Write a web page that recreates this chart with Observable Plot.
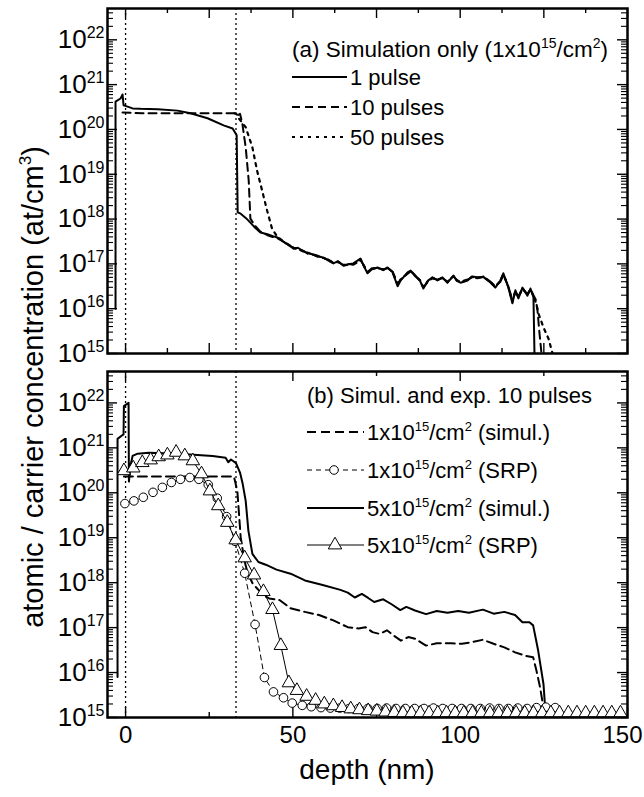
<!DOCTYPE html>
<html>
<head>
<meta charset="utf-8">
<script src="https://cdn.jsdelivr.net/npm/d3@7"></script>
<script src="https://cdn.jsdelivr.net/npm/@observablehq/plot@0.6"></script>
<style>
  body { margin: 0; background: #fff; }
  #chart { position: relative; width: 644px; height: 797px; font-family: "Liberation Sans", Arial, Helvetica, sans-serif; color: #000; }
  #chart svg { position: absolute; left: 0; overflow: visible; }
</style>
</head>
<body>
<div id="chart"></div>
<script>
// ---------------- DATA (depth in nm, log10 of concentration in at/cm^3) ----------------
// Panel (a): simulation only, 1x10^15/cm^2
const aPulse1 = [[-3.0,16.0],[-3.0,20.62],[-1.5,20.69],[-0.9,20.78],[-0.6,20.54],[0.6,20.51],[2.1,20.47],[4.5,20.46],[9.6,20.45],[15.5,20.42],[19.4,20.36],[24.5,20.25],[29.3,20.09],[32.0,20.02],[33.2,19.87],[33.5,18.15],[34.4,18.12],[36.0,18.02],[37.3,17.92],[38.8,17.80],[40.3,17.70],[42.4,17.66],[44.0,17.62],[45.4,17.59],[47.8,17.46],[49.0,17.42],[50.2,17.34],[51.5,17.36],[53.2,17.28],[54.5,17.24],[56.2,17.21],[57.5,17.17],[59.2,17.14],[60.5,17.08],[62.1,17.01],[63.5,17.06],[65.1,16.96],[66.5,16.99],[68.1,17.01],[70.2,17.12],[71.2,16.95],[72.3,16.79],[73.6,16.88],[75.3,16.92],[77.0,16.86],[78.3,16.92],[79.8,16.81],[81.3,16.50],[82.2,16.63],[84.3,16.81],[85.2,16.85],[86.6,16.74],[88.0,16.62],[89.0,16.45],[90.3,16.62],[91.7,16.70],[93.2,16.63],[94.7,16.70],[96.2,16.58],[98.0,16.74],[99.0,16.62],[100.1,16.58],[102.2,16.63],[103.5,16.72],[105.2,16.70],[107.0,16.70],[109.1,16.58],[110.5,16.47],[112.0,16.63],[112.9,16.79],[114.4,16.47],[115.6,16.12],[116.5,16.41],[117.4,16.23],[118.6,16.47],[120.1,16.29],[121.0,16.45],[121.9,16.25],[122.2,15.0]];
const aPulse10 = [[-0.9,20.38],[5.0,20.36],[15.0,20.36],[25.0,20.36],[33.0,20.36],[33.4,20.31],[34.2,20.35],[34.9,20.13],[35.9,19.60],[36.8,18.86],[37.3,18.01],[38.8,17.84],[40.3,17.72],[42.4,17.64],[44.0,17.60],[45.4,17.57],[47.8,17.47],[49.0,17.40],[50.2,17.35],[51.5,17.33],[53.2,17.29],[54.5,17.22],[56.2,17.20],[57.5,17.18],[59.2,17.12],[60.5,17.10],[62.1,17.03],[63.5,17.04],[65.1,16.98],[66.5,17.00],[68.1,16.98],[70.2,17.08],[71.2,16.97],[72.3,16.82],[73.6,16.90],[75.3,16.90],[77.0,16.88],[78.3,16.90],[79.8,16.83],[81.3,16.55],[82.2,16.66],[84.3,16.78],[85.2,16.83],[86.6,16.72],[88.0,16.64],[89.0,16.48],[90.3,16.60],[91.7,16.68],[93.2,16.65],[94.7,16.68],[96.2,16.60],[98.0,16.72],[99.0,16.64],[100.1,16.60],[102.2,16.65],[103.5,16.70],[105.2,16.68],[107.0,16.72],[109.1,16.60],[110.5,16.50],[112.0,16.60],[112.9,16.75],[114.4,16.50],[115.6,16.18],[116.5,16.38],[117.4,16.27],[118.6,16.44],[120.1,16.33],[121.0,16.42],[121.9,16.30],[122.6,16.20],[123.1,15.96],[123.7,15.45],[124.3,15.0]];
const aPulse50 = [[32.5,20.36],[33.0,20.36],[33.9,20.24],[35.9,20.05],[37.9,19.60],[39.3,19.08],[40.8,18.64],[42.3,18.19],[43.8,17.78],[45.4,17.60],[47.8,17.47],[49.0,17.41],[50.2,17.36],[51.5,17.34],[53.2,17.27],[54.5,17.25],[56.2,17.20],[57.5,17.16],[59.2,17.13],[60.5,17.09],[62.1,17.02],[63.5,17.05],[65.1,16.97],[66.5,16.98],[68.1,17.00],[70.2,17.10],[71.2,16.96],[72.3,16.81],[73.6,16.89],[75.3,16.91],[77.0,16.87],[78.3,16.91],[79.8,16.82],[81.3,16.53],[82.2,16.64],[84.3,16.80],[85.2,16.84],[86.6,16.73],[88.0,16.63],[89.0,16.47],[90.3,16.61],[91.7,16.69],[93.2,16.64],[94.7,16.69],[96.2,16.59],[98.0,16.73],[99.0,16.63],[100.1,16.59],[102.2,16.64],[103.5,16.71],[105.2,16.69],[107.0,16.71],[109.1,16.59],[110.5,16.49],[112.0,16.62],[112.9,16.77],[114.4,16.49],[115.6,16.15],[116.5,16.40],[117.4,16.25],[118.6,16.46],[120.1,16.31],[121.0,16.44],[121.9,16.28],[122.8,16.10],[123.4,15.89],[124.9,15.58],[126.4,15.33],[127.6,15.0]];

// Panel (b): simulation and SRP experiment, 10 pulses
const bSim1e15 = [[-0.5,20.36],[2.5,20.36],[10.0,20.36],[20.0,20.36],[30.0,20.36],[32.4,20.36],[33.4,20.04],[33.9,19.53],[34.4,19.01],[35.5,18.50],[36.5,18.21],[38.0,17.98],[39.7,17.84],[41.3,17.72],[42.9,17.65],[46.1,17.61],[49.3,17.43],[53.6,17.35],[57.8,17.28],[62.1,17.16],[66.4,17.01],[69.6,16.98],[71.7,17.01],[73.8,16.90],[75.9,16.86],[78.1,16.94],[80.2,16.82],[82.3,16.71],[84.5,16.79],[86.6,16.75],[89.8,16.60],[93.0,16.65],[97.3,16.65],[100.5,16.64],[103.7,16.68],[106.8,16.73],[110.0,16.64],[113.2,16.56],[116.4,16.45],[119.6,16.37],[121.8,16.34],[122.8,16.04],[123.9,15.66],[124.9,15.21],[125.2,15.0]];
const bSim5e15 = [[-2.4,15.9],[-2.4,21.20],[-1.2,21.27],[-0.6,21.30],[-0.5,21.93],[0.9,22.0],[1.0,20.25],[1.5,20.62],[2.1,20.82],[3.6,20.87],[6.9,20.89],[15.8,20.87],[26.0,20.82],[29.9,20.78],[30.7,20.68],[31.5,20.74],[33.0,20.66],[34.2,20.45],[35.0,20.20],[35.9,19.82],[36.7,19.16],[37.9,18.64],[39.7,18.46],[41.9,18.40],[45.1,18.29],[49.3,18.20],[53.6,18.05],[58.9,17.95],[64.2,17.84],[66.4,17.78],[68.5,17.67],[70.6,17.75],[72.5,17.66],[74.3,17.57],[77.0,17.63],[79.5,17.52],[82.1,17.39],[83.9,17.46],[86.5,17.38],[89.8,17.30],[93.0,17.37],[96.2,17.33],[99.4,17.37],[102.6,17.33],[106.8,17.40],[110.0,17.31],[113.2,17.35],[116.4,17.28],[118.6,17.12],[120.7,17.12],[121.8,17.05],[123.3,16.49],[124.9,15.74],[125.6,15.0]];
const bSrpDepth1e15 = [-0.2,2.5,5.3,8.2,11.0,13.7,16.4,19.2,21.9,24.7,27.4,30.2,32.7,35.6,38.7,41.5,44.2,47.2,49.8,52.8,55.5,58.4,61.2,64.0,66.8,69.6,72.4,75.2,78.0,80.8,83.6,86.4,89.2,92.0,94.8,97.6,100.4,103.2,106.0,108.8,111.6,114.4,117.2,120.0,122.8,125.6,128.4];
const bSrpLog1e15 = [19.76,19.82,19.90,20.01,20.12,20.23,20.30,20.34,20.30,20.18,19.88,19.47,18.92,18.21,17.07,15.89,15.57,15.44,15.32,15.27,15.24,15.22,15.21,15.21,15.20,15.20,15.20,15.20,15.21,15.20,15.20,15.20,15.20,15.21,15.20,15.20,15.20,15.20,15.20,15.21,15.20,15.20,15.21,15.20,15.22,15.23,15.22];
const bSrpDepth5e15 = [-0.5,2.3,5.0,7.5,9.9,12.5,15.1,17.7,20.1,22.7,25.2,27.7,30.4,32.9,35.6,38.4,41.2,43.9,46.4,48.8,51.2,54.1,56.8,59.4,62.1,64.7,67.3,69.9,72.5,75.1,77.7,80.3,82.9,85.5,88.1,90.7,93.3,95.9,98.5,101.1,103.7,106.3,108.9,111.5,114.1,116.7,119.3,121.9,124.5,127.1,129.7,132.3,134.9,137.5,140.1,142.7,145.3,147.9];
const bSrpLog5e15 = [20.49,20.55,20.67,20.73,20.80,20.84,20.90,20.82,20.71,20.42,20.04,19.71,19.34,18.95,18.55,18.17,17.80,17.40,16.60,15.77,15.60,15.47,15.38,15.30,15.26,15.22,15.19,15.17,15.15,15.14,15.12,15.11,15.10,15.10,15.10,15.10,15.10,15.10,15.10,15.10,15.10,15.10,15.10,15.10,15.10,15.10,15.10,15.10,15.10,15.10,15.10,15.10,15.10,15.10,15.10,15.10,15.10,15.10];

// reference depths (dotted vertical lines)
const refDepths = [0, 33];

// axes
const xDomain = [-5.4, 150];
const yDomain = [1e15, 5e22];
const yMajor = [1e15, 1e16, 1e17, 1e18, 1e19, 1e20, 1e21, 1e22];
const yMinor = [];
for (let e = 15; e <= 22; e++) for (let m = 2; m <= 9; m++) { const v = m * 10 ** e; if (v < 5e22) yMinor.push(v); }
const xTickLabels = [0, 50, 100, 150];
const aXMajor = [0, 25, 50, 75, 100, 125, 150], aXMinor = [12.5, 37.5, 62.5, 87.5, 112.5, 137.5];
const bXMajor = [0, 50, 100, 150], bXMinor = [25, 75, 125];

// ---------------- BUILD ----------------
const pairsToRows = (pairs) => pairs.map(([d, e]) => ({depth: d, conc: 10 ** e}));
const zipRows = (ds, es) => ds.map((d, i) => ({depth: d, conc: 10 ** es[i]}));

const W = 644, ML = 107, MR = 17;
const PW = W - ML - MR;
const FONT = '"Liberation Sans", Arial, Helvetica, sans-serif';

function frameTicks(PH, xMaj, xMin) {
  const sw = 1.4;
  return [
    Plot.tickY(yMajor, {insetRight: PW - 10, strokeWidth: sw}),
    Plot.tickY(yMajor, {insetLeft: PW - 10, strokeWidth: sw}),
    Plot.tickY(yMinor, {insetRight: PW - 6, strokeWidth: 1.1}),
    Plot.tickY(yMinor, {insetLeft: PW - 6, strokeWidth: 1.1}),
    Plot.tickX(xMaj, {insetTop: PH - 10, strokeWidth: sw}),
    Plot.tickX(xMaj, {insetBottom: PH - 10, strokeWidth: sw}),
    Plot.tickX(xMin, {insetTop: PH - 5, strokeWidth: sw}),
    Plot.tickX(xMin, {insetBottom: PH - 5, strokeWidth: sw})
  ];
}
const yAxisLabels = () => Plot.axisY({ticks: yMajor, tickSize: 0, tickPadding: 3, label: null,
  tickFormat: d => "10^" + Math.round(Math.log10(d)), fontSize: 26});

const lineOpts = {x: "depth", y: "conc", stroke: "black", clip: true};

// Panel (a)
const HA = 362, MTA = 8, MBA = 9;
const plotA = Plot.plot({
  width: W, height: HA, marginLeft: ML, marginRight: MR, marginTop: MTA, marginBottom: MBA,
  x: {domain: xDomain, axis: null},
  y: {type: "log", domain: yDomain},
  style: {fontFamily: FONT, fontSize: "26px", color: "black", background: "transparent"},
  marks: [
    ...frameTicks(HA - MTA - MBA, aXMajor, aXMinor),
    yAxisLabels(),
    Plot.ruleX(refDepths, {strokeDasharray: "2,3", strokeWidth: 1.3}),
    Plot.line(pairsToRows(aPulse50), {...lineOpts, strokeWidth: 2.2, strokeDasharray: "3,5"}),
    Plot.line(pairsToRows(aPulse10), {...lineOpts, strokeWidth: 2, strokeDasharray: "8,5"}),
    Plot.line(pairsToRows(aPulse1), {...lineOpts, strokeWidth: 2}),
    Plot.frame({strokeWidth: 2.5})
  ]
});

// Panel (b)
const TOPB = 362, HB = 435, MTB = 9, MBB = 80;
const plotB = Plot.plot({
  width: W, height: HB, marginLeft: ML, marginRight: MR, marginTop: MTB, marginBottom: MBB,
  x: {domain: xDomain},
  y: {type: "log", domain: yDomain},
  style: {fontFamily: FONT, fontSize: "26px", color: "black", background: "transparent"},
  marks: [
    ...frameTicks(HB - MTB - MBB, bXMajor, bXMinor),
    yAxisLabels(),
    Plot.axisX({ticks: xTickLabels, tickSize: 0, tickPadding: 8, label: null, fontSize: 24}),
    Plot.ruleX(refDepths, {strokeDasharray: "2,3", strokeWidth: 1.3}),
    Plot.line(pairsToRows(bSim1e15), {...lineOpts, strokeWidth: 2, strokeDasharray: "9,5"}),
    Plot.line(pairsToRows(bSim5e15), {...lineOpts, strokeWidth: 2}),
    Plot.line(zipRows(bSrpDepth1e15, bSrpLog1e15), {...lineOpts, strokeWidth: 1, strokeDasharray: "5,4"}),
    Plot.dot(zipRows(bSrpDepth1e15, bSrpLog1e15), {x: "depth", y: "conc", r: 4.3, stroke: "black", fill: "white", strokeWidth: 1, clip: true}),
    Plot.line(zipRows(bSrpDepth5e15, bSrpLog5e15), {...lineOpts, strokeWidth: 1}),
    Plot.dot(zipRows(bSrpDepth5e15, bSrpLog5e15), {x: "depth", y: "conc", symbol: "triangle", r: 5, stroke: "black", fill: "white", strokeWidth: 1, clip: true}),
    Plot.frame({strokeWidth: 2.5})
  ]
});

const chart = document.getElementById("chart");
plotA.style.top = "0px";
plotB.style.top = TOPB + "px";
chart.appendChild(plotA);
chart.appendChild(plotB);

// superscript exponents in y tick labels; keep the last x label inside the page
for (const svg of [plotA, plotB]) {
  svg.querySelectorAll("text").forEach(t => {
    const txt = t.textContent.trim();
    if (txt === "150") { t.setAttribute("dx", "-5"); return; }
    const m = /^10\^(\d+)$/.exec(txt);
    if (!m) return;
    t.textContent = "";
    const ns = "http://www.w3.org/2000/svg";
    const a = document.createElementNS(ns, "tspan"); a.textContent = "10";
    const b = document.createElementNS(ns, "tspan"); b.textContent = m[1];
    b.setAttribute("dy", "-10"); b.setAttribute("font-size", "16");
    t.appendChild(a); t.appendChild(b);
  });
}

// ---------------- overlay: legends and axis titles ----------------
const ov = d3.select(chart).append("svg")
  .attr("width", W).attr("height", 797).style("top", "0px")
  .attr("font-family", FONT).style("pointer-events", "none");

function rich(g, x, y, parts, size, opts = {}) {
  const t = g.append("text").attr("x", x).attr("y", y).attr("font-size", size)
    .attr("text-anchor", opts.anchor || "start").style("white-space", "pre").attr("fill", "black");
  if (opts.transform) t.attr("transform", opts.transform).attr("x", 0).attr("y", 0);
  let raised = false;
  const up = Math.round(size * 0.42);
  for (const p of parts) {
    const sup = p.startsWith("^");
    const s = sup ? p.slice(1) : p;
    const ts = t.append("tspan").text(s);
    if (sup) { ts.attr("font-size", Math.round(size * 0.6)); if (!raised) { ts.attr("dy", -up); raised = true; } }
    else if (raised) { ts.attr("dy", up); raised = false; }
  }
  return t;
}

const LF = 22;
// legend (a)
const gA = ov.append("g");
rich(gA, 292, 57, ["(a) Simulation only (1x10", "^15", "/cm", "^2", ")"], 22.5);
const legA = [
  {label: "1 pulse", dash: null, y: 77},
  {label: "10 pulses", dash: "8,5", y: 107},
  {label: "50 pulses", dash: "3,5", y: 137}
];
legA.forEach(e => {
  gA.append("line").attr("x1", 292).attr("x2", 347).attr("y1", e.y).attr("y2", e.y)
    .attr("stroke", "black").attr("stroke-width", e.dash === "3,5" ? 2.2 : 2).attr("stroke-dasharray", e.dash);
  rich(gA, 350, e.y + 8, [e.label], LF);
});

// legend (b)
const gB = ov.append("g");
rich(gB, 307, 403, ["(b) Simul. and exp. 10 pulses"], LF);
const legB = [
  {parts: ["1x10", "^15", "/cm", "^2", " (simul.)"], dash: "9,5", w: 2, sym: null, y: 432},
  {parts: ["1x10", "^15", "/cm", "^2", " (SRP)"], dash: "5,4", w: 1, sym: "circle", y: 470},
  {parts: ["5x10", "^15", "/cm", "^2", " (simul.)"], dash: null, w: 2, sym: null, y: 508},
  {parts: ["5x10", "^15", "/cm", "^2", " (SRP)"], dash: null, w: 1, sym: "triangle", y: 545}
];
legB.forEach(e => {
  gB.append("line").attr("x1", 307).attr("x2", 364).attr("y1", e.y).attr("y2", e.y)
    .attr("stroke", "black").attr("stroke-width", e.w).attr("stroke-dasharray", e.dash);
  if (e.sym === "circle") {
    gB.append("circle").attr("cx", 334).attr("cy", e.y).attr("r", 4.3).attr("fill", "white").attr("stroke", "black");
  } else if (e.sym === "triangle") {
    gB.append("path").attr("transform", `translate(335,${e.y})`)
      .attr("d", d3.symbol(d3.symbolTriangle, Math.PI * 25)()).attr("fill", "white").attr("stroke", "black");
  }
  rich(gB, 367, e.y + 8, e.parts, LF);
});

// axis titles
rich(ov, 0, 0, ["atomic / carrier concentration (at/cm", "^3", ")"], 29,
  {anchor: "middle", transform: "translate(43,387) rotate(-90)"});
rich(ov, 367, 779, ["depth (nm)"], 28, {anchor: "middle"});
</script>
</body>
</html>
